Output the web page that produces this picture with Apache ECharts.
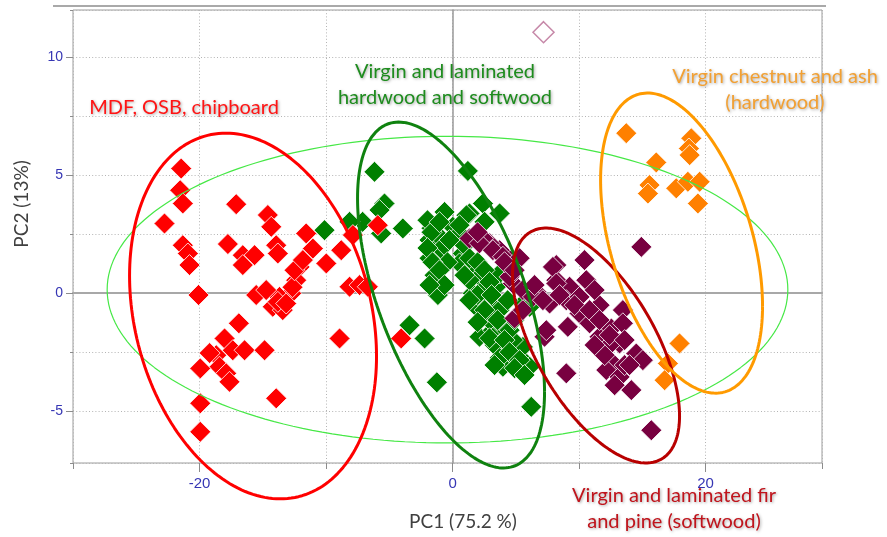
<!DOCTYPE html>
<html>
<head>
<meta charset="utf-8">
<script src="https://cdn.jsdelivr.net/npm/echarts@6/dist/echarts.min.js"></script>
<style>
  html, body { margin: 0; padding: 0; background: #ffffff; }
  #chart { width: 887px; height: 537px; }
</style>
</head>
<body>
<div id="chart"></div>
<script>
// PCA scores: [PC1, PC2] per sample
const mdfOsbChipboard = [
  [-21.45, 5.28], [-21.53, 4.36], [-21.32, 3.80], [-22.77, 2.95], [-17.10, 3.77],
  [-14.60, 3.31], [-14.33, 2.81], [-21.32, 2.03], [-20.92, 1.68], [-20.79, 1.19],
  [-17.76, 2.08], [-16.58, 1.61], [-15.65, 1.61], [-16.58, 1.19], [-13.94, 2.03],
  [-13.81, 1.68], [-11.57, 2.53], [-11.04, 1.89], [-9.98, 1.26], [-8.80, 1.82],
  [-7.88, 2.46], [-12.09, 1.11], [-12.36, 0.55], [-12.75, -0.01], [-13.68, -0.16],
  [-14.21, -0.58], [-13.42, -0.72], [-15.52, -0.08], [-20.08, -0.08], [-8.14, 0.27],
  [-7.35, 0.34], [-6.70, 0.27], [-16.89, -1.28], [-18.02, -1.92], [-17.37, -2.42],
  [-16.44, -2.42], [-14.86, -2.42], [-18.68, -2.63], [-18.42, -3.12], [-17.89, -3.40],
  [-17.63, -3.76], [-19.94, -3.19], [-8.93, -1.92], [-13.94, -4.46], [-19.94, -4.67],
  [-19.94, -5.88], [-5.91, 2.88], [-4.06, -1.92], [-12.65, 0.25], [-19.20, -2.54],
  [-13.81, -0.37], [-13.15, -0.44], [-14.73, 0.13], [-12.49, 0.97], [-11.83, 1.40]
];
const hardSoftwood = [
  [-6.17, 5.14], [1.21, 5.18], [-5.38, 3.80], [-5.77, 3.52], [-7.11, 3.02],
  [-3.93, 2.74], [-5.64, 2.53], [2.40, 3.80], [3.72, 3.38], [1.34, 3.38],
  [2.53, 3.02], [-0.63, 3.44], [-1.42, 2.81], [-1.82, 2.25], [-1.03, 2.39],
  [0.02, 2.81], [0.55, 2.53], [-1.29, 1.68], [-1.42, 0.76], [-1.16, -0.08],
  [0.81, 1.68], [0.55, 1.26], [1.60, 1.11], [2.13, 0.69], [1.60, -0.01],
  [2.40, 0.13], [1.87, -0.58], [2.92, -0.44], [2.66, -1.00], [3.45, 0.27],
  [3.72, -0.72], [2.13, -1.85], [3.19, -1.57], [3.98, -1.43], [3.72, -2.42],
  [3.98, -3.12], [5.04, -2.70], [5.83, -2.98], [5.56, -2.28], [4.77, -1.99],
  [5.56, -0.44], [-3.40, -1.36], [-2.21, -1.92], [-1.24, -3.78], [6.22, -4.82],
  [-10.12, 2.67], [-8.14, 3.02], [3.72, 0.83], [6.09, -0.58], [6.09, -3.12],
  [-1.82, 1.48], [-0.63, 2.03], [-1.66, 2.75], [-0.40, 1.31], [1.34, 0.55],
  [2.92, -1.14], [4.51, -1.57], [4.35, -0.30], [3.32, -2.20], [5.30, -3.26],
  [4.90, -1.14], [1.10, 3.30],
  [-1.98, 3.09], [-1.66, 2.58], [-1.98, 1.91], [-1.58, 1.31], [-1.03, 0.97],
  [-0.63, 0.34], [-1.82, 0.34], [0.95, 2.03], [1.34, 1.48], [1.98, 1.31],
  [2.53, 0.97], [0.95, 0.76], [2.92, 0.47], [1.98, -0.08], [3.08, -0.08],
  [1.34, -0.30], [2.53, -0.72], [3.56, -1.14], [1.98, -1.23], [2.92, -1.91],
  [4.11, -1.99], [3.72, -2.75], [4.51, -2.50], [5.30, -2.84], [4.90, -3.18],
  [3.32, -3.05], [5.69, -3.47], [0.55, 2.88], [-0.24, 2.25], [-1.03, 3.01]
];
const firPine = [
  [14.92, 1.96], [8.20, 1.19], [10.43, 1.40], [8.20, 0.55], [10.57, 0.55],
  [9.25, 0.27], [6.62, 0.06], [7.67, -0.44], [8.99, -0.30], [10.04, -0.16],
  [10.04, -0.86], [9.11, -1.43], [10.83, -1.28], [11.62, -1.85], [12.55, -1.50],
  [13.46, -0.72], [13.46, -1.28], [13.20, -2.13], [14.52, -2.56], [15.04, -2.84],
  [12.67, -2.98], [12.15, -3.26], [13.20, -3.55], [14.13, -4.11], [8.99, -3.40],
  [7.27, -1.85], [4.90, -1.07], [5.56, -0.72], [4.77, 0.41], [4.51, 1.40],
  [15.71, -5.81], [3.72, 1.82], [2.92, 2.11], [2.40, 2.32], [1.34, 2.32],
  [2.13, 2.11], [3.19, 1.82], [3.98, 1.54], [4.51, 0.69], [5.56, 0.13],
  [6.35, -0.16], [7.14, -0.30], [7.41, -1.57], [7.93, 1.11], [8.20, 0.41],
  [11.62, -0.51], [11.23, 0.13], [12.41, -2.20], [13.60, -3.05], [12.81, -3.90],
  [5.30, 1.48], [1.98, 2.58],
  [4.11, 1.31], [4.90, 0.97], [6.48, 0.34], [8.46, -0.08], [9.64, -0.51],
  [10.83, -0.72], [11.62, -1.14], [12.41, -1.78], [13.60, -1.99], [13.99, -3.05],
  [12.02, -2.63], [11.23, -2.20]
];
const chestnutAsh = [
  [13.73, 6.78], [18.87, 6.56], [18.68, 6.13], [18.74, 5.85], [16.10, 5.54],
  [15.57, 4.58], [15.44, 4.22], [17.68, 4.44], [18.60, 4.72], [19.53, 4.72],
  [19.39, 3.80], [17.94, -2.13], [17.02, -2.98], [16.76, -3.69]
];
const openSample = [[7.19, 11.06]];

// axis tick labels
const xTickLabels = [-20, 0, 20];
const yTickLabels = [-5, 0, 5, 10];

// group ellipses: centre, half-extent along PC1 / PC2, PC1-PC2 correlation
const ellipseAll = { cx: -0.4, cy: 0.15, sx: 26.9, sy: 6.5, r: 0 };
const ellipseMdf = { cx: -15.77, cy: -0.97, sx: 9.76, sy: 7.75, r: -0.22 };
const ellipseHardSoft = { cx: -0.12, cy: -0.08, sx: 7.39, sy: 7.33, r: -0.56 };
const ellipseFirPine = { cx: 11.34, cy: -2.22, sx: 6.6, sy: 4.98, r: -0.6 };
const ellipseChestnut = { cx: 18.1, cy: 2.12, sx: 6.4, sy: 6.36, r: -0.42 };

function ellipseRing(e) {
  const pts = [];
  const n = 200;
  const k = Math.sqrt(1 - e.r * e.r);
  for (let i = 0; i <= n; i++) {
    const t = (i / n) * 2 * Math.PI;
    pts.push([e.cx + e.sx * Math.cos(t), e.cy + e.sy * (e.r * Math.cos(t) + k * Math.sin(t))]);
  }
  return pts;
}

const chart = echarts.init(document.getElementById('chart'), null, { renderer: 'canvas' });

const labelColor = '#3636b4';
const tickColor = '#8c8c8c';
const gridLine = { show: true, lineStyle: { color: '#b4b4b4', width: 1, type: [1, 2.2] } };
const hidden = { axisTick: { show: false }, axisLabel: { show: false }, splitLine: { show: false } };

function scatter(name, data, color, z) {
  return {
    name, type: 'scatter', data, symbol: 'diamond', symbolSize: 21, z,
    itemStyle: { color, opacity: 1, borderColor: '#ffffff', borderWidth: 0.8 },
    emphasis: { disabled: true }, silent: true
  };
}
function ring(name, e, color, width) {
  return {
    name, type: 'line', data: ellipseRing(e), showSymbol: false, symbol: 'none',
    smooth: false, clip: false, z: 10, silent: true,
    lineStyle: { color, width }, emphasis: { disabled: true }
  };
}

const shadow = { textShadowColor: 'rgba(0,0,0,0.35)', textShadowBlur: 3, textShadowOffsetX: 1, textShadowOffsetY: 1 };
function note(text, x, y, color) {
  return {
    type: 'text', x, y, z: 100, silent: true,
    style: Object.assign({
      text, fill: color, font: '20px Lato', align: 'center', verticalAlign: 'middle', lineHeight: 26
    }, shadow)
  };
}

chart.setOption({
  animation: false,
  backgroundColor: '#ffffff',
  grid: { left: 73, top: 10, right: 65, bottom: 74, show: true, borderColor: '#9c9c9c', borderWidth: 1, backgroundColor: 'transparent' },
  xAxis: [
    {
      // dotted grid and short ticks every 10
      type: 'value', min: -30, max: 29.2, minInterval: 10, maxInterval: 10, position: 'bottom',
      axisLine: { show: false, onZero: false },
      axisTick: { show: true, length: 6, lineStyle: { color: tickColor } },
      axisLabel: { show: false },
      splitLine: gridLine
    },
    {
      // labelled ticks
      type: 'value', min: -30, max: 29.2, minInterval: 20, maxInterval: 20, position: 'bottom',
      axisLine: { show: false, onZero: false },
      axisTick: { show: true, length: 9, customValues: xTickLabels, lineStyle: { color: tickColor } },
      axisLabel: { show: true, customValues: xTickLabels, margin: 13, color: labelColor, fontSize: 15, fontFamily: 'Liberation Sans' },
      splitLine: { show: false }
    },
    Object.assign({
      // horizontal zero line
      type: 'value', min: -30, max: 29.2, position: 'bottom',
      axisLine: { show: true, onZero: true, onZeroAxisIndex: 0, lineStyle: { color: '#a8a8a8', width: 2.2 } }
    }, hidden)
  ],
  yAxis: [
    {
      type: 'value', min: -7.2, max: 12, minInterval: 2.5, maxInterval: 2.5, position: 'left',
      axisLine: { show: false, onZero: false },
      axisTick: { show: true, length: 3, lineStyle: { color: tickColor } },
      axisLabel: { show: false },
      splitLine: gridLine
    },
    {
      type: 'value', min: -7.2, max: 12, minInterval: 5, maxInterval: 5, position: 'left',
      axisLine: { show: false, onZero: false },
      axisTick: { show: true, length: 7, customValues: yTickLabels, lineStyle: { color: tickColor } },
      axisLabel: { show: true, customValues: yTickLabels, margin: 10, color: labelColor, fontSize: 14, fontFamily: 'Liberation Sans' },
      splitLine: { show: false }
    },
    Object.assign({
      // vertical zero line
      type: 'value', min: -7.2, max: 12, position: 'left',
      axisLine: { show: true, onZero: true, onZeroAxisIndex: 0, lineStyle: { color: '#9a9a9a', width: 1.5 } }
    }, hidden)
  ],
  graphic: [
    { type: 'line', silent: true, shape: { x1: 53, y1: 6, x2: 826, y2: 6 }, style: { stroke: '#a9a9a9', lineWidth: 2 } },
    { type: 'text', x: 463, y: 522, silent: true, style: { text: 'PC1 (75.2 %)', fill: '#404040', font: '19px Lato', align: 'center', verticalAlign: 'middle' } },
    { type: 'text', x: 22, y: 204, rotation: Math.PI / 2, silent: true, style: { text: 'PC2 (13%)', fill: '#404040', font: '19px Lato', align: 'center', verticalAlign: 'middle' } },
    note('MDF, OSB, chipboard', 184, 108, '#ff1414'),
    note('Virgin and laminated\nhardwood and softwood', 445, 85, '#1e8c1e'),
    note('Virgin chestnut and ash\n(hardwood)', 775, 90, '#f2a033'),
    note('Virgin and laminated fir\nand pine (softwood)', 674, 509, '#c0141c')
  ],
  series: [
    scatter('Virgin and laminated hardwood and softwood', hardSoftwood, '#008000', 3),
    scatter('Virgin and laminated fir and pine (softwood)', firPine, '#780040', 4),
    scatter('MDF, OSB, chipboard', mdfOsbChipboard, '#ff0000', 5),
    scatter('Virgin chestnut and ash (hardwood)', chestnutAsh, '#ff8000', 6),
    {
      name: 'open', type: 'scatter', data: openSample, symbol: 'diamond', symbolSize: 21, z: 6, silent: true,
      itemStyle: { color: '#ffffff', borderColor: '#b86a92', borderWidth: 1.5 }
    },
    ring('all samples', ellipseAll, '#46e846', 1.2),
    ring('MDF ellipse', ellipseMdf, '#ff0000', 3),
    ring('hardwood and softwood ellipse', ellipseHardSoft, '#0f820f', 3),
    ring('fir and pine ellipse', ellipseFirPine, '#b80000', 3),
    ring('chestnut and ash ellipse', ellipseChestnut, '#ff9a00', 3)
  ]
});
</script>
</body>
</html>
